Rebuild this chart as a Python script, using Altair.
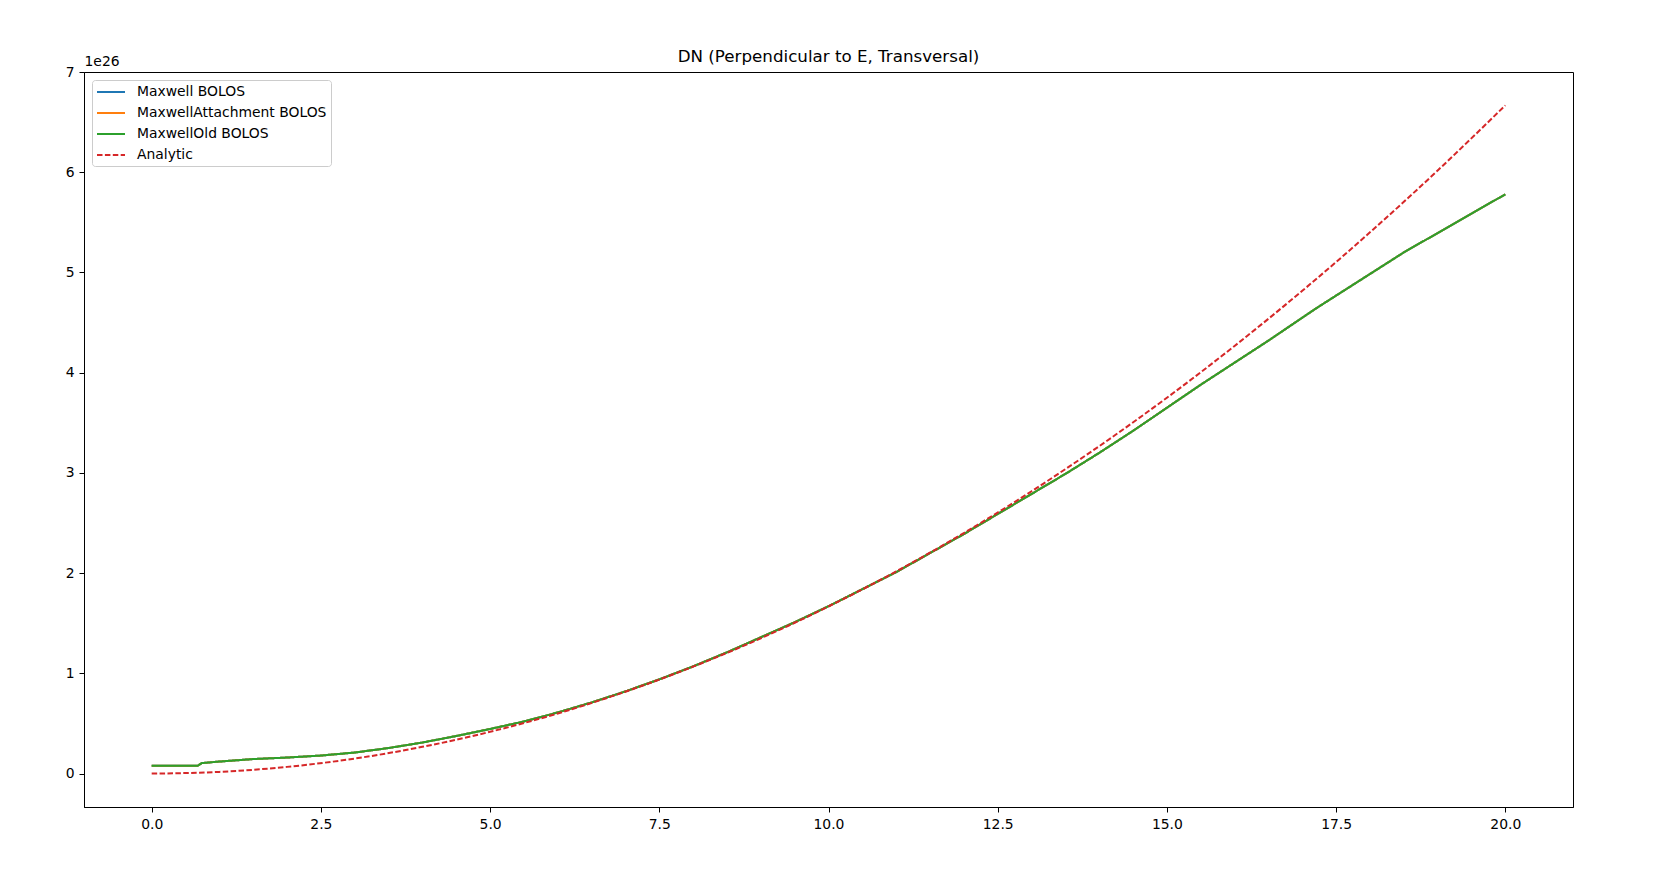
import altair as alt
import pandas as pd

# Values in units of 1e26 (shown as the "1e26" offset label)
bolos_x = [0, 0.68, 0.74, 1, 1.5, 2, 2.5, 3, 3.5, 4, 4.5, 5, 5.5, 6, 6.5, 7, 7.5,
           8, 8.5, 9, 9.5, 10, 10.5, 11, 11.5, 12, 12.5, 13, 13.5, 14, 14.5, 15,
           15.5, 16, 16.5, 17.2, 18.5, 20]
maxwell_y = [0.078, 0.078, 0.105, 0.12, 0.145, 0.16, 0.18, 0.21, 0.255, 0.31, 0.375,
             0.445, 0.52, 0.61, 0.71, 0.82, 0.94, 1.07, 1.21, 1.36, 1.51, 1.67, 1.84,
             2.01, 2.2, 2.39, 2.59, 2.79, 2.99, 3.2, 3.42, 3.65, 3.88, 4.10, 4.32,
             4.64, 5.20, 5.78]
attach_y = list(maxwell_y)
old_y = list(maxwell_y)

analytic_x = [0, 1, 2, 3, 4, 5, 6, 7, 8, 9, 10, 11, 12, 13, 14, 15, 16, 17, 18, 19, 20]
analytic_y = [0.0, 0.017, 0.067, 0.15, 0.267, 0.417, 0.6, 0.817, 1.067, 1.35, 1.667,
              2.017, 2.4, 2.817, 3.267, 3.75, 4.267, 4.817, 5.4, 6.017, 6.667]

series = ["Maxwell BOLOS", "MaxwellAttachment BOLOS", "MaxwellOld BOLOS", "Analytic"]
colors = ["#1f77b4", "#ff7f0e", "#2ca02c", "#d62728"]
dashes = [[1, 0], [1, 0], [1, 0], [5.5, 2.4]]

frames = [
    pd.DataFrame({"x": bolos_x, "y": maxwell_y, "s": series[0]}),
    pd.DataFrame({"x": bolos_x, "y": attach_y, "s": series[1]}),
    pd.DataFrame({"x": bolos_x, "y": old_y, "s": series[2]}),
    pd.DataFrame({"x": analytic_x, "y": analytic_y, "s": series[3]}),
]

xs = alt.Scale(domain=[-1, 21], nice=False, zero=False)
ys = alt.Scale(domain=[-0.3333, 7.0], nice=False, zero=False)
cs = alt.Scale(domain=series, range=colors)
ds = alt.Scale(domain=series, range=dashes)

legend = alt.Legend(
    title=None, orient="none", legendX=8, legendY=8,
    symbolType="M-1,0H3", symbolSize=196, symbolStrokeWidth=2,
    labelFont="DejaVu Sans", labelFontSize=13.9, labelColor="black", labelLimit=0,
    rowPadding=6, padding=4, labelOffset=25,
    strokeColor="#cccccc", fillColor="rgba(255,255,255,0.8)", cornerRadius=3,
)

layers = []
for i, df in enumerate(frames):
    interp = "monotone" if series[i] == "Analytic" else "linear"
    layers.append(
        alt.Chart(df).mark_line(strokeWidth=2, interpolate=interp).encode(
            x=alt.X("x:Q", scale=xs, axis=alt.Axis(
                title=None, values=[0, 2.5, 5, 7.5, 10, 12.5, 15, 17.5, 20], format=".1f",
                grid=False, tickSize=5, labelPadding=5, domainColor="black",
                tickColor="black", labelColor="black", labelFont="DejaVu Sans",
                labelFontSize=13.9)),
            y=alt.Y("y:Q", scale=ys, axis=alt.Axis(
                title="1e26", values=[0, 1, 2, 3, 4, 5, 6, 7], format="d",
                grid=False, tickSize=5, labelPadding=5, domainColor="black",
                tickColor="black", labelColor="black", labelFont="DejaVu Sans",
                labelFontSize=13.9, titleAngle=0, titleX=0, titleY=-4,
                titleAlign="left", titleBaseline="bottom", titleFont="DejaVu Sans",
                titleFontSize=13.9, titleFontWeight="normal", titleColor="black")),
            color=alt.Color("s:N", scale=cs, legend=legend, sort=series),
            strokeDash=alt.StrokeDash("s:N", scale=ds, legend=legend, sort=series),
        )
    )

chart = alt.layer(*layers).properties(
    width=1489, height=735,
    title=alt.TitleParams("DN (Perpendicular to E, Transversal)", font="DejaVu Sans",
                          fontSize=16.7, fontWeight="normal", color="black", offset=-12),
    autosize=alt.AutoSizeParams(type="none"),
    padding={"left": 76, "top": 64, "right": 70, "bottom": 50},
).configure(
    background="white",
    view=alt.ViewConfig(stroke="black", strokeWidth=1, strokeOpacity=1),
)

chart.save("out.html", embed_options={"renderer": "svg", "actions": False})
